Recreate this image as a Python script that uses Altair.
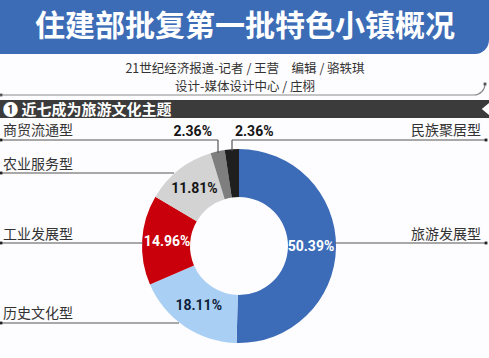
import altair as alt
import pandas as pd

# ---- data ----
categories = ["旅游发展型", "历史文化型", "工业发展型", "农业服务型", "商贸流通型", "民族聚居型"]
shares = [50.39, 18.11, 14.96, 11.81, 2.36, 2.36]
colors = ["#3C6CB8", "#A9D0F4", "#C9000B", "#D3D3D3", "#7E7E7E", "#1F1F1F"]
label_colors = ["#FFFFFF", "#0F1E3C", "#FFFFFF", "#151515", "#151515", "#151515"]

title_text = "住建部批复第一批特色小镇概况"
byline1 = "21世纪经济报道-记者 / 王营　编辑 / 骆轶琪"
byline2 = "设计-媒体设计中心 / 庄栩"
section_text = "❶ 近七成为旅游文化主题"

df = pd.DataFrame({
    "cat": categories,
    "share": shares,
    "order": list(range(len(categories))),
    "label": [f"{v:.2f}%" for v in shares],
    "lcolor": label_colors,
})

W, H = 489, 358
CX, CY = 239, 246
R_OUT, R_IN = 97, 49
CJK = "Noto Sans CJK SC"
NUMFONT = "Liberation Sans Narrow, Roboto, sans-serif"
dummy = pd.DataFrame({"a": [0]})


def rect(x, x2, y, y2, color, **kw):
    return alt.Chart(dummy).mark_rect(color=color, **kw).encode(
        x=alt.value(x), x2=alt.value(x2), y=alt.value(y), y2=alt.value(y2))


def rule(x, x2, y, y2, color="#555555", w=1.2):
    return alt.Chart(dummy).mark_rule(color=color, strokeWidth=w).encode(
        x=alt.value(x), x2=alt.value(x2), y=alt.value(y), y2=alt.value(y2))


def txt(s, x, y, size, color, align="center", weight="normal", font=CJK, baseline="middle"):
    return alt.Chart(dummy).mark_text(
        text=s, fontSize=size, color=color, align=align, fontWeight=weight,
        font=font, baseline=baseline).encode(x=alt.value(x), y=alt.value(y))


def dot(x, y, color="#222222", size=8):
    return alt.Chart(dummy).mark_point(shape="square", filled=True, color=color, size=size, opacity=1).encode(
        x=alt.value(x), y=alt.value(y))


layers = []
# Title banner
layers.append(rect(-5, W, -5, 54, "#3D6CB6", cornerRadiusBottomRight=14))
layers.append(txt(title_text, 245, 27, 30, "#FFFFFF", weight="bold"))
# bylines
layers.append(txt(byline1, 245, 69, 12.5, "#333333"))
layers.append(txt(byline2, 245, 87, 12.5, "#333333"))
# curved divider
layers.append(rule(1, 474, 95, 95, "#8A8A8A", 1.2))
layers.append(alt.Chart(dummy).mark_arc(
    radius=11, radius2=11, theta=1.5708, theta2=3.1416, stroke="#8A8A8A",
    strokeWidth=1.2, fillOpacity=0).encode(x=alt.value(474), y=alt.value(84)))
layers.append(dot(1, 95, "#555555", 8))
layers.append(dot(485, 84, "#555555", 8))
# section bar
layers.append(rect(0, W, 100, 118, "#3B3B3B"))
layers.append(alt.Chart(dummy).mark_point(
    shape="M 1 -1 L -0.2 0 L 1 1 Z", filled=True, color="#FFFFFF", size=150, opacity=1).encode(
    x=alt.value(483), y=alt.value(109)))
layers.append(txt(section_text, 3, 110, 15, "#FFFFFF", align="left", weight="bold"))

# donut
donut = alt.Chart(df).mark_arc(radius=R_OUT, innerRadius=R_IN).encode(
    theta=alt.Theta("share:Q", stack=True),
    order=alt.Order("order:Q"),
    color=alt.Color("cat:N", scale=alt.Scale(domain=categories, range=colors), legend=None),
    x=alt.value(CX), y=alt.value(CY),
)
layers.append(donut)

inner_labels = alt.Chart(df).mark_text(
    radius=72, fontSize=14, fontWeight="bold", font=NUMFONT).encode(
    theta=alt.Theta("share:Q", stack=True),
    order=alt.Order("order:Q"),
    text="label:N",
    color=alt.Color("lcolor:N", scale=None),
    x=alt.value(CX), y=alt.value(CY),
).transform_filter("datum.share > 5")
layers.append(inner_labels)

small = df[df["share"] < 5].reset_index(drop=True)
for i, (xpos, align) in enumerate([(212, "right"), (235, "left")]):
    layers.append(alt.Chart(small.iloc[[i]]).mark_text(
        fontSize=14, fontWeight="bold", font=NUMFONT, color="#151515",
        align=align, baseline="middle").encode(
        text="label:N", x=alt.value(xpos), y=alt.value(132)))

# leader lines and category labels
LC = "#555555"
# 商贸流通型
layers += [rule(1, 218, 140, 140, LC), rule(218, 218, 140, 153, LC), dot(1, 140),
           txt(categories[4], 3, 131, 14, "#333333", align="left")]
# 民族聚居型
layers += [rule(232, 486, 140, 140, LC), rule(232, 232, 140, 151, LC), dot(486, 140),
           txt(categories[5], 481, 131, 14, "#333333", align="right")]
# 农业服务型
layers += [rule(1, 174, 173, 173, LC), dot(1, 173),
           txt(categories[3], 3, 165, 14, "#333333", align="left")]
# 工业发展型
layers += [rule(1, 143, 243, 243, LC), dot(1, 243),
           txt(categories[2], 3, 235, 14, "#333333", align="left")]
# 历史文化型
layers += [rule(1, 179, 323, 323, LC), dot(1, 323),
           txt(categories[1], 3, 314, 14, "#333333", align="left")]
# 旅游发展型
layers += [rule(335, 486, 243, 243, LC), dot(486, 243),
           txt(categories[0], 481, 235, 14, "#333333", align="right")]

chart = alt.layer(*layers).properties(
    width=W, height=H, padding=0, autosize=alt.AutoSizeParams(type="none"),
    background="#FDFCFE",
).configure_view(stroke=None)

chart.save("out.html", embed_options={"renderer": "svg", "actions": False})
